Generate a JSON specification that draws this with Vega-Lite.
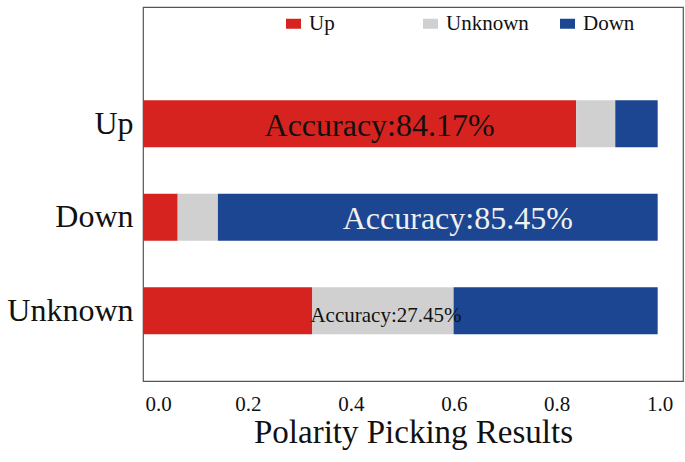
{
  "$schema": "https://vega.github.io/schema/vega-lite/v6.json",
  "width": 540,
  "height": 374,
  "autosize": "none",
  "padding": {"left": 143, "top": 7, "right": 2, "bottom": 81},
  "config": {
    "font": "Liberation Serif",
    "view": {"stroke": "#555555", "strokeWidth": 1.2},
    "axis": {
      "grid": false,
      "domain": false,
      "ticks": false,
      "labelColor": "#111111",
      "titleColor": "#111111",
      "labelFont": "Liberation Serif",
      "titleFont": "Liberation Serif",
      "titleFontWeight": "normal"
    }
  },
  "data": {
    "values": [
      {"truth": "Up", "pred": "Up", "value": 0.8417},
      {"truth": "Up", "pred": "Unknown", "value": 0.0759},
      {"truth": "Up", "pred": "Down", "value": 0.0824},
      {"truth": "Down", "pred": "Up", "value": 0.0674},
      {"truth": "Down", "pred": "Unknown", "value": 0.0781},
      {"truth": "Down", "pred": "Down", "value": 0.8545},
      {"truth": "Unknown", "pred": "Up", "value": 0.329},
      {"truth": "Unknown", "pred": "Unknown", "value": 0.2745},
      {"truth": "Unknown", "pred": "Down", "value": 0.3965}
    ]
  },
  "transform": [
    {"calculate": "indexof(['Up', 'Unknown', 'Down'], datum.pred)", "as": "rank"},
    {
      "stack": "value",
      "groupby": ["truth"],
      "sort": [{"field": "rank", "order": "ascending"}],
      "as": ["x0", "x1"]
    }
  ],
  "encoding": {
    "y": {
      "field": "truth",
      "type": "nominal",
      "sort": ["Up", "Down", "Unknown"],
      "title": null,
      "scale": {"type": "band", "paddingInner": 0.497, "paddingOuter": 0.75, "align": 0.666},
      "axis": {"labelFont": "Liberation Serif", "labelFontSize": 32, "labelPadding": 10}
    }
  },
  "layer": [
    {
      "mark": {"type": "bar"},
      "encoding": {
        "x": {
          "field": "x0",
          "type": "quantitative",
          "title": "Polarity Picking Results",
          "scale": {"domain": [0, 1.0492], "nice": false},
          "axis": {
            "values": [0, 0.2, 0.4, 0.6, 0.8, 1.0],
            "format": ".1f",
            "labelFont": "Liberation Serif",
            "labelFontSize": 21,
            "labelPadding": 12,
            "labelOffset": 2,
            "titleFont": "Liberation Serif",
            "titleFontSize": 33,
            "titleFontWeight": "normal",
            "titlePadding": 2
          }
        },
        "x2": {"field": "x1"},
        "color": {
          "field": "pred",
          "type": "nominal",
          "scale": {"domain": ["Up", "Unknown", "Down"], "range": ["#d6231f", "#d0d0d0", "#1c4592"]},
          "legend": {
            "title": null,
            "orient": "none",
            "legendX": 134,
            "legendY": 0,
            "direction": "horizontal",
            "columns": 3,
            "gridAlign": "all",
            "columnPadding": 28,
            "padding": 6,
            "symbolType": "M-1,-0.667H1V0.667H-1Z",
            "symbolSize": 225,
            "symbolStrokeWidth": 0,
            "symbolOpacity": 1,
            "labelFont": "Liberation Serif",
            "labelFontSize": 21,
            "labelColor": "#111111",
            "labelOffset": 5
          }
        }
      }
    },
    {
      "transform": [
        {"filter": "datum.truth == datum.pred && datum.truth != 'Unknown'"},
        {"calculate": "'Accuracy:' + format(datum.value * 100, '.2f') + '%'", "as": "label"},
        {"calculate": "(datum.x0 + datum.x1) / 2", "as": "mid"}
      ],
      "mark": {"type": "text", "fontSize": 32, "dx": 20, "dy": 2},
      "encoding": {
        "x": {"field": "mid", "type": "quantitative"},
        "text": {"field": "label"},
        "color": {
          "condition": {"test": "datum.truth == 'Down'", "value": "#f0f0f0"},
          "value": "#111111"
        }
      }
    },
    {
      "transform": [
        {"filter": "datum.truth == 'Unknown' && datum.pred == 'Unknown'"},
        {"calculate": "'Accuracy:' + format(datum.value * 100, '.2f') + '%'", "as": "label"},
        {"calculate": "(datum.x0 + datum.x1) / 2", "as": "mid"}
      ],
      "mark": {"type": "text", "fontSize": 21, "dx": 3, "dy": 5, "color": "#111111"},
      "encoding": {
        "x": {"field": "mid", "type": "quantitative"},
        "text": {"field": "label"}
      }
    }
  ]
}
